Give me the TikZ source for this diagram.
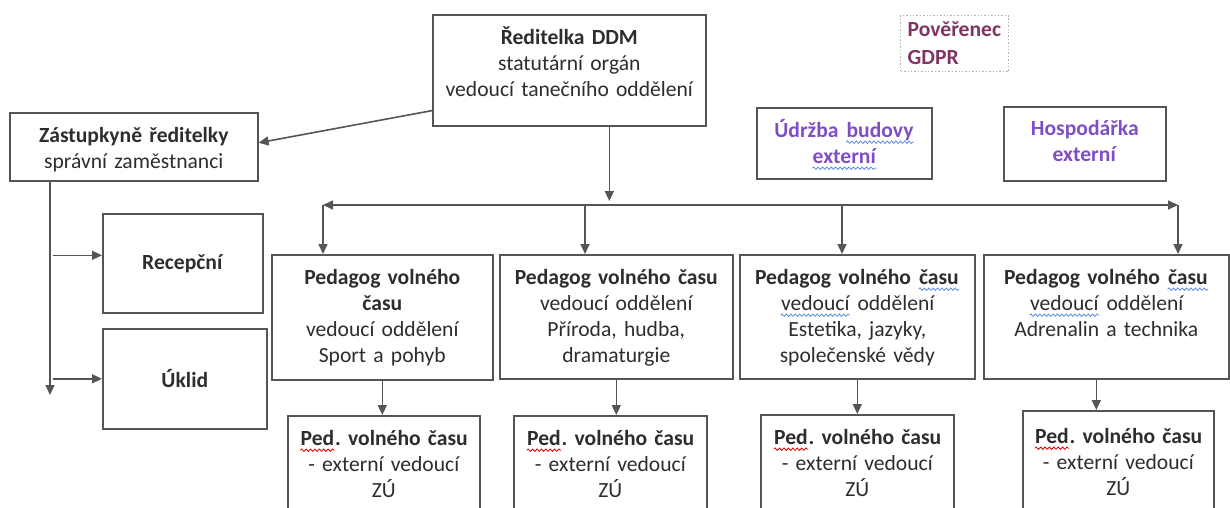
\documentclass[tikz,border=0pt]{standalone}
\usepackage{fontspec}
\setmainfont{Carlito}
\usepackage{tikz}
\usetikzlibrary{arrows.meta,calc,decorations.pathmorphing}
\frenchspacing

\definecolor{boxgray}{RGB}{85,85,85}
\definecolor{textgray}{RGB}{45,45,45}
\definecolor{gdprtext}{RGB}{128,52,98}
\definecolor{extpurple}{RGB}{128,78,196}
\definecolor{wavyblue}{RGB}{90,140,230}

% spell-check underline
\newcommand{\wavy}[2]{\tikz[baseline=(w.base)]{\node[inner sep=0pt, text width={}, text height={}, text depth={}, anchor=base] (w) {#2};
  \draw[#1, line width=0.4pt, decorate, decoration={snake, amplitude=0.6pt, segment length=2.2pt}] ([yshift=-2.2pt]w.base west) -- ([yshift=-2.2pt]w.base east);}}

\tikzset{
  box/.style={draw=boxgray, line width=0.8pt, inner sep=0pt, align=center, text=textgray, anchor=north west},
  arr/.style={draw=boxgray, line width=0.8pt, -{Triangle[length=5pt,width=4.5pt]}},
  arrboth/.style={draw=boxgray, line width=0.8pt, {Triangle[length=5pt,width=4.5pt]}-{Triangle[length=5pt,width=4.5pt]}}
}

\begin{document}
\begin{tikzpicture}[x=0.5pt, y=-0.5pt, font=\fontsize{10.8}{13}\selectfont]
\clip (0,0) rectangle (1230,508);
% vedeni
\node[box, text width=136.5pt, text height=15pt, text depth=40.5pt] (dir) at (432,14)
  {\textbf{Ředitelka DDM}\\statutární orgán\\vedoucí tanečního oddělení};
\node[box, draw=gray!60, line width=0.7pt, densely dotted, align=left, inner xsep=3.5pt, text width=47pt, text height=10.5pt, text depth=17.5pt, text=gdprtext] (gdpr) at (900,15)
  {\textbf{Pověřenec}\\[1pt]\textbf{GDPR}};
\node[box, text width=124pt, text height=15pt, text depth=19pt] (zast) at (9,112)
  {\textbf{Zástupkyně ředitelky}\\správní zaměstnanci};
\node[box, text width=87.5pt, text height=15pt, text depth=20.5pt, text=extpurple] (udrz) at (756,107)
  {\textbf{Údržba \wavy{wavyblue}{budovy}}\\\textbf{\wavy{wavyblue}{externí}}};
\node[box, text width=81pt, text height=14.5pt, text depth=22.5pt, text=extpurple] (hosp) at (1003,106)
  {\textbf{Hospodářka}\\\textbf{externí}};
% sprava
\node[box, minimum width=80pt, minimum height=49.5pt] (rec) at (102,213) {\textbf{Recepční}};
\node[box, minimum width=82pt, minimum height=50pt] (ukl) at (102,328) {\textbf{Úklid}};
% oddeleni
\node[box, text width=110.5pt, text height=15pt, text depth=47.5pt] (p1) at (271,254)
  {\textbf{Pedagog volného}\\\textbf{času}\\vedoucí oddělení\\Sport a pohyb};
\node[box, text width=116.5pt, text height=15pt, text depth=47pt] (p2) at (499,254)
  {\textbf{Pedagog volného času}\\vedoucí oddělení\\Příroda, hudba,\\dramaturgie};
\node[box, text width=117.5pt, text height=15pt, text depth=47pt] (p3) at (739,254)
  {\textbf{Pedagog volného \wavy{wavyblue}{času}}\\\wavy{wavyblue}{vedoucí} oddělení\\Estetika, jazyky,\\společenské vědy};
\node[box, text width=122.5pt, text height=15pt, text depth=47pt] (p4) at (983,254)
  {\textbf{Pedagog volného \wavy{wavyblue}{času}}\\\wavy{wavyblue}{vedoucí} oddělení\\Adrenalin a technika};
% externi vedouci
\node[box, text width=96pt, text height=15pt, text depth=37.5pt] (e1) at (287,415)
  {\textbf{\wavy{red!85!black}{Ped}. volného času}\\- externí vedoucí\\ZÚ};
\node[box, text width=96.5pt, text height=15pt, text depth=37.5pt] (e2) at (513,415)
  {\textbf{\wavy{red!85!black}{Ped}. volného času}\\- externí vedoucí\\ZÚ};
\node[box, text width=96.5pt, text height=15pt, text depth=38pt] (e3) at (760,414)
  {\textbf{\wavy{red!85!black}{Ped}. volného času}\\- externí vedoucí\\ZÚ};
\node[box, text width=95.5pt, text height=16.5pt, text depth=38.5pt] (e4) at (1022,410)
  {\textbf{\wavy{red!85!black}{Ped}. volného času}\\- externí vedoucí\\ZÚ};
% spojnice
\coordinate (busL) at (323,205);
\coordinate (busR) at (1178,205);
\coordinate (bus2) at (585,205);
\coordinate (bus3) at (842,205);
\coordinate (dirout) at ($(dir.south)+(40,0)$);
\coordinate (zend) at (50,395);
\draw[arr] ([yshift=8pt]dir.south west) -- ([yshift=2pt]zast.east);
\draw[arr, shorten >=2pt] (dirout) -- (dirout |- busL);
\draw[arrboth] (busL) -- (busR);
\draw[arr] (busL) -- (busL |- p1.north);
\draw[arr] (bus2) -- (bus2 |- p2.north);
\draw[arr] (bus3) -- (bus3 |- p3.north);
\draw[arr] (busR) -- (busR |- p4.north);
\draw[arr] (p1.south) -- (p1.south |- e1.north);
\draw[arr] (p2.south) -- (p2.south |- e2.north);
\draw[arr] (p3.south) -- (p3.south |- e3.north);
\draw[arr] ([xshift=-5pt]p4.south) -- ([xshift=-5pt]p4.south |- e4.north);
\draw[arr] (zast.south -| zend) -- (zend);
\draw[arr] ([xshift=1.5pt,yshift=4pt]zend |- rec.west) -- ([yshift=4pt]rec.west);
\draw[arr] ([xshift=1.5pt]zend |- ukl.west) -- (ukl.west);
\end{tikzpicture}
\end{document}
